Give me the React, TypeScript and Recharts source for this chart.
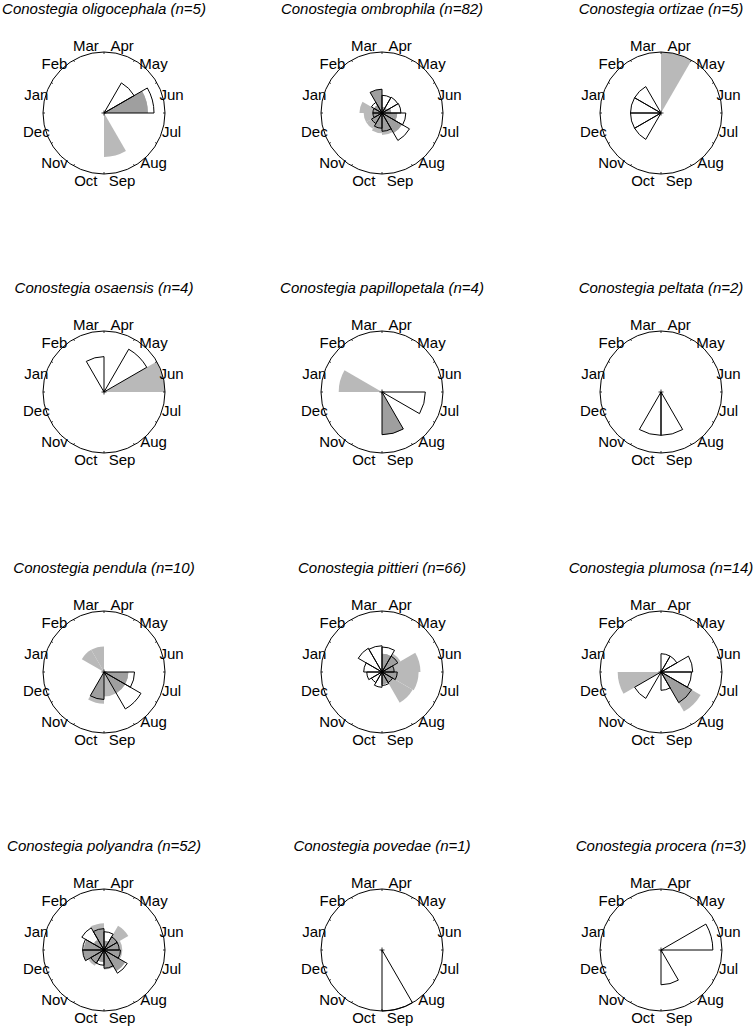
import React from "react";
import { RadialBarChart, RadialBar, PolarAngleAxis, PolarRadiusAxis } from "recharts";

// bins run clockwise from 12 o'clock, one month each
const MONTHS = ["Apr", "May", "Jun", "Jul", "Aug", "Sep", "Oct", "Nov", "Dec", "Jan", "Feb", "Mar"];

// radius of each wedge as a share of the circle (open = outlined, gray = filled)
const oligocephalaOpen = [0, 0.57, 0.82, 0, 0, 0, 0, 0, 0, 0, 0, 0];
const oligocephalaGray = [0, 0, 0.72, 0, 0, 0.72, 0, 0, 0, 0, 0, 0];
const ombrophilaOpen = [0.29, 0.3, 0.31, 0.39, 0.52, 0.3, 0.25, 0.2, 0.15, 0.15, 0.2, 0.39];
const ombrophilaGray = [0.1, 0.1, 0.15, 0.25, 0.38, 0.36, 0.33, 0.3, 0.3, 0.37, 0.15, 0.39];
const ortizaeOpen = [0, 0, 0, 0, 0, 0, 0, 0.5, 0.5, 0.5, 0.5, 0];
const ortizaeGray = [1.0, 0, 0, 0, 0, 0, 0, 0, 0, 0, 0, 0];
const osaensisOpen = [0, 0.81, 0, 0, 0, 0, 0, 0, 0, 0, 0, 0.58];
const osaensisGray = [0, 0, 1.0, 0, 0, 0, 0, 0, 0, 0, 0, 0];
const papillopetalaOpen = [0, 0, 0, 0.71, 0, 0.7, 0, 0, 0, 0, 0, 0];
const papillopetalaGray = [0, 0, 0, 0, 0, 0.7, 0, 0, 0, 0.71, 0, 0];
const peltataOpen = [0, 0, 0, 0, 0, 0.71, 0.71, 0, 0, 0, 0, 0];
const peltataGray = [0, 0, 0, 0, 0, 0, 0, 0, 0, 0, 0, 0];
const pendulaOpen = [0, 0, 0, 0.5, 0.7, 0, 0.45, 0, 0, 0, 0, 0];
const pendulaGray = [0, 0, 0, 0.4, 0.4, 0.4, 0.52, 0, 0, 0, 0.42, 0.42];
const pittieriOpen = [0.41, 0.3, 0.2, 0.25, 0.2, 0.22, 0.25, 0.2, 0.25, 0.3, 0.45, 0.43];
const pittieriGray = [0.3, 0.35, 0.63, 0.6, 0.58, 0.2, 0, 0, 0, 0, 0, 0];
const plumosaOpen = [0.3, 0.3, 0.52, 0.5, 0.58, 0.3, 0, 0.5, 0, 0, 0, 0];
const plumosaGray = [0, 0, 0, 0, 0.75, 0, 0, 0, 0.71, 0, 0, 0];
const polyandraOpen = [0.3, 0.25, 0.25, 0.27, 0.44, 0.3, 0.25, 0.25, 0.35, 0.35, 0.42, 0.35];
const polyandraGray = [0.15, 0.46, 0.3, 0.3, 0.4, 0.32, 0.2, 0.3, 0.35, 0.33, 0.2, 0.44];
const povedaeOpen = [0, 0, 0, 0, 0, 1.0, 0, 0, 0, 0, 0, 0];
const povedaeGray = [0, 0, 0, 0, 0, 0, 0, 0, 0, 0, 0, 0];
const proceraOpen = [0, 0, 0.85, 0, 0, 0.57, 0, 0, 0, 0, 0, 0];
const proceraGray = [0, 0, 0, 0, 0, 0, 0, 0, 0, 0, 0, 0];

const SPECIES = [
  { name: "Conostegia oligocephala", n: 5, open: oligocephalaOpen, gray: oligocephalaGray },
  { name: "Conostegia ombrophila", n: 82, open: ombrophilaOpen, gray: ombrophilaGray },
  { name: "Conostegia ortizae", n: 5, open: ortizaeOpen, gray: ortizaeGray },
  { name: "Conostegia osaensis", n: 4, open: osaensisOpen, gray: osaensisGray },
  { name: "Conostegia papillopetala", n: 4, open: papillopetalaOpen, gray: papillopetalaGray },
  { name: "Conostegia peltata", n: 2, open: peltataOpen, gray: peltataGray },
  { name: "Conostegia pendula", n: 10, open: pendulaOpen, gray: pendulaGray },
  { name: "Conostegia pittieri", n: 66, open: pittieriOpen, gray: pittieriGray },
  { name: "Conostegia plumosa", n: 14, open: plumosaOpen, gray: plumosaGray },
  { name: "Conostegia polyandra", n: 52, open: polyandraOpen, gray: polyandraGray },
  { name: "Conostegia povedae", n: 1, open: povedaeOpen, gray: povedaeGray },
  { name: "Conostegia procera", n: 3, open: proceraOpen, gray: proceraGray },
];

const COL_X = [104, 382, 661];
const ROW_Y = [113, 392, 672, 950];

const W = 252;
const H = 250;
const CX = 126;
const CY = 125;
const R = 61;
const LABEL_R = 70;
const FONT = "'Liberation Sans', Arial, sans-serif";

const MonthTick = (props: any) => {
  const i = props.index;
  const a = ((15 + 30 * i) * Math.PI) / 180;
  const b = (30 * i * Math.PI) / 180;
  return (
    <g>
      <line
        x1={CX + (R - 2) * Math.sin(b)}
        y1={CY - (R - 2) * Math.cos(b)}
        x2={CX + R * Math.sin(b)}
        y2={CY - R * Math.cos(b)}
        stroke="#000"
        strokeWidth={0.8}
      />
      {i === 0 && (
        <g stroke="#000" strokeWidth={0.8}>
          <line x1={CX - 2.5} y1={CY} x2={CX + 2.5} y2={CY} />
          <line x1={CX} y1={CY - 2.5} x2={CX} y2={CY + 2.5} />
        </g>
      )}
      <text
        x={CX + LABEL_R * Math.sin(a)}
        y={CY - LABEL_R * Math.cos(a)}
        textAnchor="middle"
        dominantBaseline="central"
        fontSize={15}
        fontFamily={FONT}
        fill="#000"
      >
        {props.payload.value}
      </text>
    </g>
  );
};

type Row = { month: string; open: number; gray: number; both: number };

const Layer = ({ rows, dataKey, fill, stroke, axis }: { rows: Row[]; dataKey: string; fill: string; stroke?: string; axis?: boolean }) => (
  <div style={{ position: "absolute", left: 0, top: 0 }}>
    <RadialBarChart
      width={W}
      height={H}
      cx={CX}
      cy={CY}
      innerRadius={0}
      outerRadius={R}
      startAngle={60}
      endAngle={-300}
      layout="centric"
      barCategoryGap={0}
      data={rows}
      margin={{ top: 0, right: 0, bottom: 0, left: 0 }}
    >
      <PolarAngleAxis
        type="category"
        dataKey="month"
        tickLine={false}
        axisLine={axis ? { stroke: "#000", strokeWidth: 1 } : false}
        axisLineType="circle"
        tick={axis ? MonthTick : false}
      />
      <PolarRadiusAxis type="number" domain={[0, 1]} tick={false} axisLine={false} />
      <RadialBar
        dataKey={dataKey}
        fill={fill}
        stroke={stroke || "none"}
        strokeWidth={1}
        isAnimationActive={false}
      />
    </RadialBarChart>
  </div>
);

const Panel = ({ sp, idx }: { sp: (typeof SPECIES)[number]; idx: number }) => {
  const x = COL_X[idx % 3];
  const y = ROW_Y[Math.floor(idx / 3)];
  const rows: Row[] = MONTHS.map((m, i) => ({
    month: m,
    open: sp.open[i],
    gray: sp.gray[i],
    both: Math.min(sp.open[i], sp.gray[i]),
  }));
  return (
    <div style={{ position: "absolute", left: x - CX, top: y - CY, width: W, height: H }}>
      <Layer rows={rows} dataKey="gray" fill="#b9b9b9" axis />
      <Layer rows={rows} dataKey="both" fill="#9f9f9f" />
      <Layer rows={rows} dataKey="open" fill="none" stroke="#000" />
      <div
        style={{
          position: "absolute",
          left: CX - 160,
          width: 320,
          top: CY - 113,
          height: 17,
          lineHeight: "17px",
          textAlign: "center",
          fontFamily: FONT,
          fontStyle: "italic",
          fontSize: 15,
          color: "#000",
          whiteSpace: "nowrap",
        }}
      >
        {`${sp.name} (n=${sp.n})`}
      </div>
    </div>
  );
};

export default function App() {
  return (
    <div style={{ position: "absolute", left: 0, top: 0, width: 756, height: 1026, background: "#fff", overflow: "hidden" }}>
      {SPECIES.map((sp, i) => (
        <Panel key={sp.name} sp={sp} idx={i} />
      ))}
    </div>
  );
}
